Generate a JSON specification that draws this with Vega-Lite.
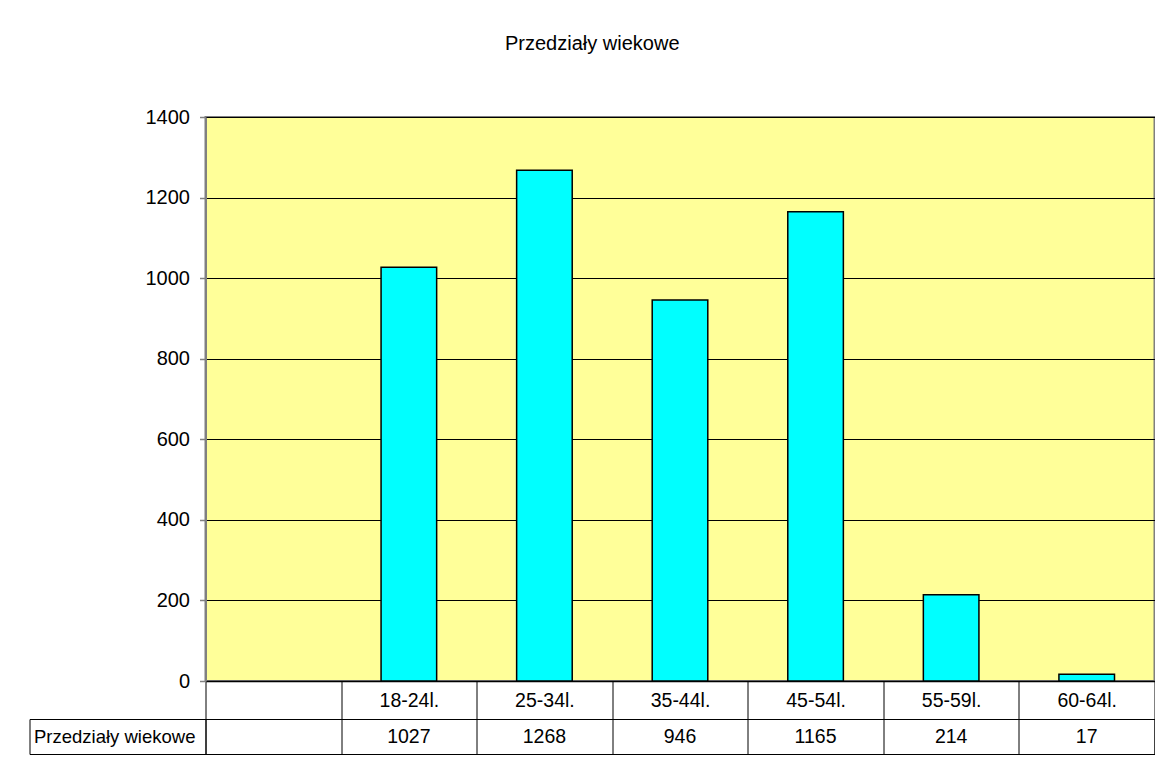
{
  "$schema": "https://vega.github.io/schema/vega-lite/v6.json",
  "padding": {"left": 28.5, "top": 34, "right": 0, "bottom": 0},
  "background": "white",
  "spacing": 38,
  "bounds": "flush",
  "title": {"text": "Przedziały wiekowe", "fontSize": 20, "font": "Liberation Sans", "fontWeight": "normal", "color": "black", "anchor": "middle", "offset": 52},
  "config": {
    "font": "Liberation Sans",
    "axis": {"labelFont": "Liberation Sans", "labelColor": "black"}
  },
  "datasets": {
    "d": [
      {"age": "18-24l.", "n": 1027},
      {"age": "25-34l.", "n": 1268},
      {"age": "35-44l.", "n": 946},
      {"age": "45-54l.", "n": 1165},
      {"age": "55-59l.", "n": 214},
      {"age": "60-64l.", "n": 17}
    ]
  },
  "vconcat": [
    {
      "width": 949,
      "height": 564,
      "data": {"name": "d"},
      "view": {"fill": "#FFFF99", "stroke": "#808080", "strokeWidth": 2},
      "layer": [
        {
          "mark": {"type": "bar", "fill": "#00FFFF", "stroke": "black", "strokeWidth": 1.5, "width": {"band": 0.41}},
          "encoding": {
            "x": {
              "field": "age", "type": "nominal", "sort": null,
              "scale": {"type": "band", "domain": [" ", "18-24l.", "25-34l.", "35-44l.", "45-54l.", "55-59l.", "60-64l."], "paddingInner": 0, "paddingOuter": 0},
              "axis": {"title": null, "labelAngle": 0, "tickBand": "extent", "tickSize": 38, "tickColor": "black", "tickWidth": 1, "domainColor": "black", "domainWidth": 1.5, "labelPadding": -19, "labelBaseline": "middle", "labelAlign": "center", "labelFontSize": 19.5, "grid": false}
            },
            "y": {
              "field": "n", "type": "quantitative",
              "scale": {"domain": [0, 1400], "nice": false},
              "axis": {"title": null, "values": [0, 200, 400, 600, 800, 1000, 1200, 1400], "grid": true, "gridColor": "black", "gridWidth": 1, "gridOpacity": 1, "tickSize": 6, "tickColor": "#808080", "tickWidth": 1.5, "domainColor": "#808080", "domainWidth": 2, "labelPadding": 10, "labelFontSize": 20, "format": "d"}
            }
          }
        }
      ]
    },
    {
      "width": 949,
      "height": 35,
      "data": {"name": "d"},
      "view": {"fill": "white", "stroke": "black", "strokeWidth": 1},
      "layer": [
        {
          "mark": {"type": "text", "fontSize": 19.5, "font": "Liberation Sans", "color": "black", "baseline": "middle", "align": "center"},
          "encoding": {
            "x": {
              "field": "age", "type": "nominal", "sort": null,
              "scale": {"type": "band", "domain": [" ", "18-24l.", "25-34l.", "35-44l.", "45-54l.", "55-59l.", "60-64l."], "paddingInner": 0, "paddingOuter": 0},
              "axis": {"title": null, "labels": false, "ticks": false, "domain": false, "grid": true, "tickBand": "extent", "gridColor": "black", "gridWidth": 1, "gridOpacity": 1}
            },
            "y": {
              "datum": "Przedziały wiekowe", "type": "nominal",
              "scale": {"type": "band", "paddingInner": 0, "paddingOuter": 0},
              "axis": {"title": null, "offset": 176, "domain": true, "domainColor": "black", "domainWidth": 1, "ticks": true, "tickBand": "extent", "tickSize": -176, "tickColor": "black", "tickWidth": 1, "labelAlign": "left", "labelBaseline": "middle", "labelPadding": 172, "labelFontSize": 18.5, "labelLimit": 400, "grid": false}
            },
            "text": {"field": "n", "type": "nominal"}
          }
        }
      ]
    }
  ]
}
